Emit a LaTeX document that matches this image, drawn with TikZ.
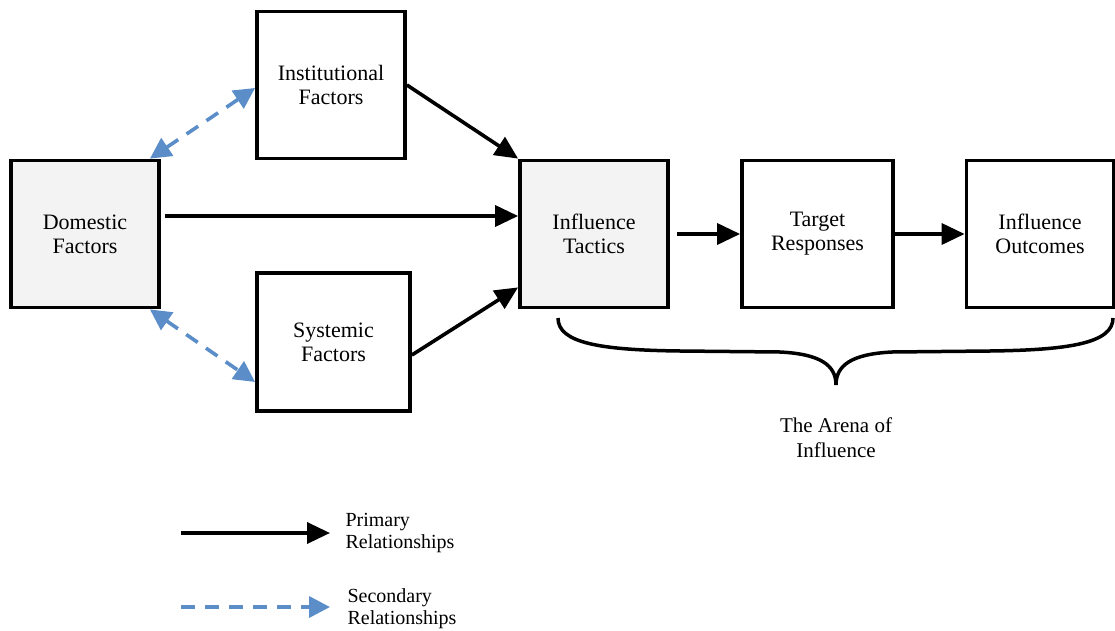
\documentclass[tikz,border=0pt]{standalone}
\usepackage{fontspec}
\setmainfont{Liberation Serif}
\usepackage{tikz}
\usetikzlibrary{arrows.meta,positioning}
\definecolor{secblue}{RGB}{91,142,200}
\definecolor{boxgray}{RGB}{243,243,243}

\begin{document}
\begin{tikzpicture}[x=1pt,y=-1pt,
      factor/.style={draw,line width=3.8pt,minimum width=148pt,minimum height=147pt,
                     inner sep=2pt,align=center,font=\fontsize{22}{24}\selectfont},
      corebox/.style={factor,fill=boxgray},
      prim/.style={-{Triangle[length=23pt,width=21pt]},line width=3.6pt,black},
      secline/.style={line width=3.6pt,secblue,dash pattern=on 14pt off 10pt},
      sec/.style={secline,{Triangle[length=21pt,width=21pt]}-{Triangle[length=21pt,width=21pt]}},
      secone/.style={secline,-{Triangle[length=21pt,width=21pt]}},
      legtext/.style={align=left,anchor=west,font=\fontsize{20}{22}\selectfont}]
      \useasboundingbox (0,0) rectangle (1115,631);
      % Factor boxes
      \node[corebox] (dom)  at (85,234)    {Domestic\\Factors};
      \node[factor]  (inst) at (331,85)    {Institutional\\Factors};
      \node[factor,minimum width=153pt,minimum height=138pt] (sys) at (333.5,342) {Systemic\\Factors};
      % Arena boxes
      \node[corebox] (tac) at (594,234)    {Influence\\Tactics};
      \node[factor,minimum width=151pt] (tgt) at (817.5,234) {Target\\Responses};
      \node[factor,minimum width=147pt] (out) at (1040,234) {Influence\\Outcomes};

      \draw[prim] (inst.east) -- (tac.north west);
      \draw[prim] ([xshift=4pt,yshift=18pt]dom.east) -- ([yshift=18pt]tac.west);
      \draw[prim] ([yshift=-13pt]sys.east) -- ([yshift=22pt]tac.south west);
      \draw[prim] ([xshift=7pt]tac.east) -- (tgt.west);
      \draw[prim] (tgt.east) -- (out.west);
      \draw[sec] ([xshift=-11pt]dom.north east) -- ([yshift=-3pt]inst.west);
      \draw[sec] ([xshift=-11pt]dom.south east) -- ([yshift=-40pt]sys.west);

      % Brace
      \coordinate (bl) at (558,318);
      \coordinate (bt) at (836,385);
      \coordinate (br) at (1113,318);
      \draw[line width=3.5pt] (bl) .. controls (558,343) and (600,350) .. (680,351)
        -- (780,352) .. controls (820,354) and (836,365) .. (bt)
        .. controls (836,365) and (852,354) .. (892,352)
        -- (990,351) .. controls (1070,350) and (1113,343) .. (br);
      \node[align=center,font=\fontsize{21}{25}\selectfont] (arena) at (836,438) {The Arena of\\Influence};

      % Legend
      \coordinate (pa) at (181,533);
      \coordinate (pb) at (330,533);
      \coordinate (sa) at (181,607);
      \coordinate (sb) at (330,607);
      \draw[prim] (pa) -- (pb);
      \draw[secone] (sa) -- (sb);
      \node[legtext] (primlab) at (342,533) {Primary\\Relationships};
      \node[legtext] (seclab)  at (344,609) {Secondary\\Relationships};
    \end{tikzpicture}
\end{document}
